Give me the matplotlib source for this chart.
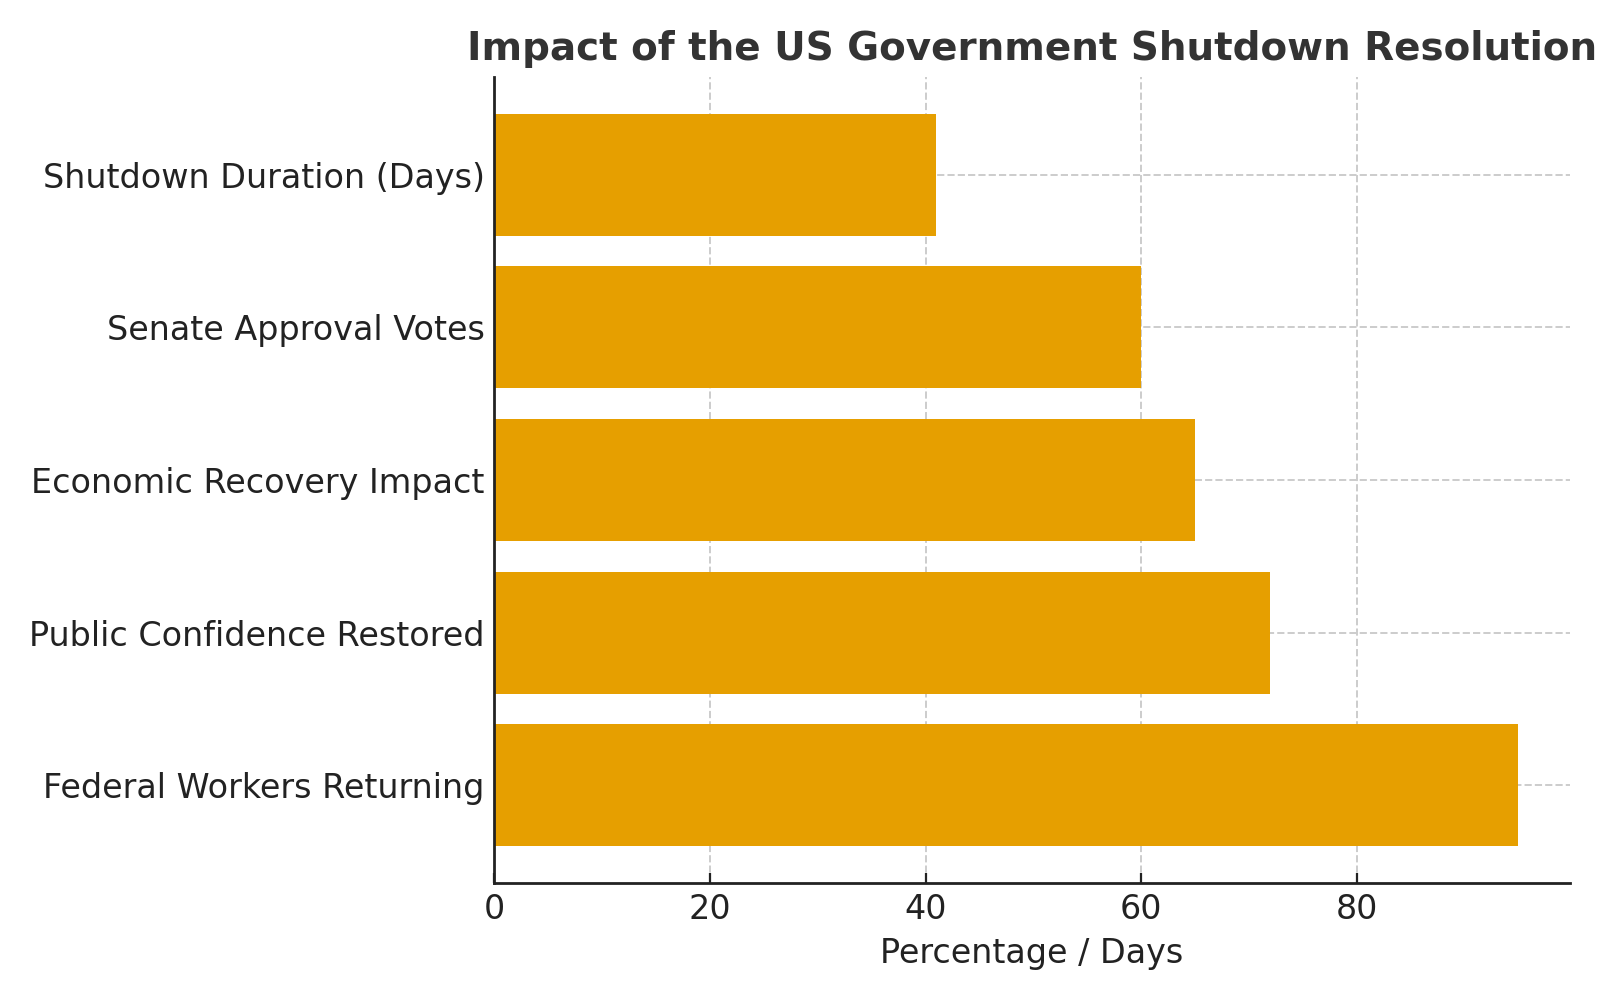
import matplotlib
matplotlib.use("Agg")
import matplotlib.pyplot as plt

categories = ["Federal Workers Returning", "Public Confidence Restored",
              "Economic Recovery Impact", "Senate Approval Votes",
              "Shutdown Duration (Days)"]
values = [95, 72, 65, 60, 41]

plt.rcParams['font.family'] = ['DejaVu Sans']
fig, ax = plt.subplots(figsize=(8, 5), dpi=200)
fig.subplots_adjust(left=0.309, right=0.981, bottom=0.117, top=0.923)

ax.barh(categories, values, color="#E69F00", height=0.8, zorder=2)
ax.set_axisbelow(True)
ax.grid(True, linestyle="--", color="#cccccc", linewidth=0.7)
ax.spines['top'].set_visible(False)
ax.spines['right'].set_visible(False)
for s in ('left', 'bottom'):
    ax.spines[s].set_color("#222222")
    ax.spines[s].set_linewidth(1.0)
ax.tick_params(direction='in', labelsize=12, colors="#222222")
ax.set_xlabel("Percentage / Days", fontsize=12, color="#222222")
ax.set_title("Impact of the US Government Shutdown Resolution",
             fontsize=14, fontweight='bold', color="#333333")
fig.savefig("out.png", dpi=200)
